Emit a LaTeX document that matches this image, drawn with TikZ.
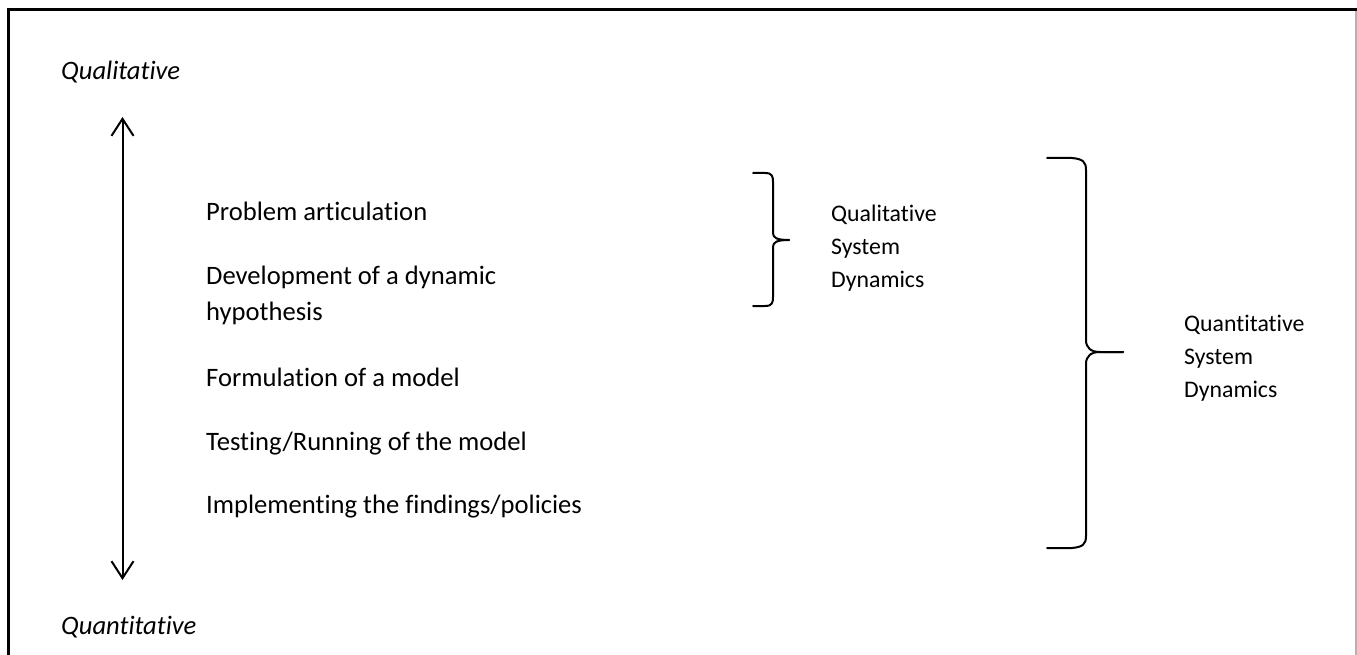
\documentclass[tikz,border=0pt]{standalone}
\usepackage{fontspec}
\setmainfont{Carlito}[Ligatures={NoCommon}]
\usetikzlibrary{arrows.meta}
\begin{document}
\begin{tikzpicture}[x=1pt,y=-1pt,
  stage/.style={anchor=base west, inner sep=0pt, font=\fontsize{26.6}{36}\selectfont},
  endlabel/.style={anchor=base west, inner sep=0pt, font=\fontsize{26.6}{36}\selectfont\itshape},
  sdlabel/.style={anchor=base west, inner sep=0pt, font=\fontsize{23.8}{33}\selectfont},
  bracket/.style={line width=2pt, line join=round, line cap=round},
  axis/.style={line width=2pt, {Straight Barb[length=17pt,width=22pt]}-{Straight Barb[length=17pt,width=22pt]}},
  frame/.style={line width=3pt},
  rightedge/.style={line width=1.5pt, draw=black!30}]
\useasboundingbox (0,0) rectangle (1357,655);

% open frame: top and left in black, right edge in light grey
\coordinate (fbl) at (8.5,655);
\coordinate (ftl) at (8.5,9.5);
\coordinate (ftr) at (1357,9.5);
\coordinate (frt) at (1356,11);
\coordinate (fbr) at (1356,655);
\draw[frame] (fbl) -- (ftl) -- (ftr);
\draw[rightedge] (frt) -- (fbr);

% axis labels and the double arrow between them
\node[endlabel] (qual) at (61,80) {Qualitative};
\node[endlabel] (quant) at (61,634) {Quantitative};
\coordinate (axtop) at (122.5,117);
\coordinate (axbot) at (122.5,580);
\draw[axis] (axbot) -- (axtop);

% stages of the modelling process
\node[stage] (s1) at (206,221) {Problem articulation};
\node[stage] (s2) at (206,284) {\vtop{\hbox{Development of a dynamic}\hbox{hypothesis}}};
\node[stage] (s3) at (206,386) {Formulation of a model};
\node[stage] (s4) at (206,450) {Testing/Running of the model};
\node[stage] (s5) at (206,513) {Implementing the findings/policies};

% small brace: qualitative system dynamics
\coordinate (sbt) at (753,173);
\coordinate (sbtip) at (789,240);
\coordinate (sbb) at (753,306);
\draw[bracket] (sbt) -- (765,173) .. controls (772,173) and (773,176) .. (773,182)
  -- (773,233) .. controls (773,238) and (777,240) .. (sbtip);
\draw[bracket] (sbtip) .. controls (777,240) and (773,242) .. (773,247)
  -- (773,297) .. controls (773,303) and (772,306) .. (765,306) -- (sbb);
\node[sdlabel] (qsd) at (831,222) {\vtop{\hbox{Qualitative}\hbox{System}\hbox{Dynamics}}};

% large brace: quantitative system dynamics
\coordinate (bbt) at (1047,158);
\coordinate (bbtip) at (1123,352);
\coordinate (bbb) at (1047,548);
\draw[bracket] (bbt) -- (1072,158) .. controls (1083,159) and (1086,162) .. (1086,170)
  -- (1086,340) .. controls (1086,348) and (1091,352) .. (1100,352) -- (bbtip);
\draw[bracket] (bbtip) -- (1100,352) .. controls (1091,352) and (1086,356) .. (1086,364)
  -- (1086,536) .. controls (1086,544) and (1083,547) .. (1072,548) -- (bbb);
\node[sdlabel] (nsd) at (1184,331) {\vtop{\hbox{Quantitative}\hbox{System}\hbox{Dynamics}}};
\end{tikzpicture}
\end{document}
